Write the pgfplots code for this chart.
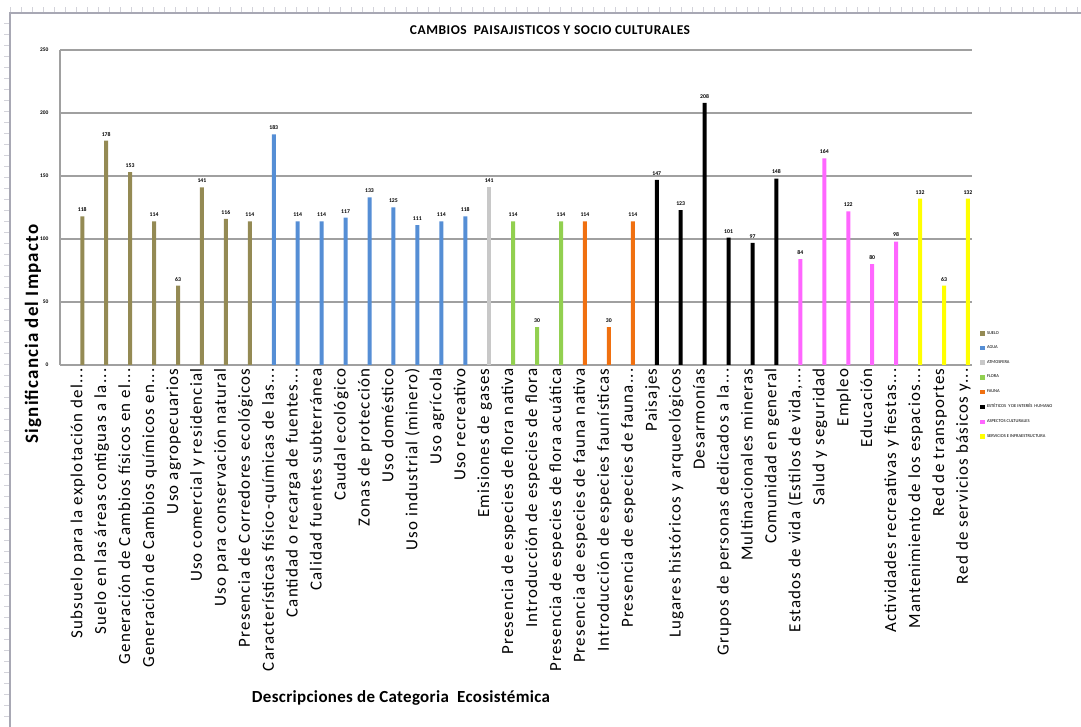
\documentclass[border=0pt]{standalone}
\usepackage{fontspec}
\setmainfont{Carlito}
\usepackage{pgfplots}
\pgfplotsset{compat=1.18}

\definecolor{suelo}{HTML}{948A54}
\definecolor{agua}{HTML}{558ED5}
\definecolor{atmos}{HTML}{C8C8C8}
\definecolor{flora}{HTML}{92D050}
\definecolor{fauna}{HTML}{F07010}
\definecolor{estet}{HTML}{000000}
\definecolor{cultu}{HTML}{FF66FF}
\definecolor{servi}{HTML}{FFFF00}
\definecolor{gridgray}{HTML}{A0A0A0}
\definecolor{framegray}{HTML}{A8A8B4}

% truncation mark for long category names
\newcommand{\trc}{...}

\begin{document}
\begin{tikzpicture}[x=1bp,y=1bp]
\path[use as bounding box] (0,0) rectangle (1081,727);
% outer frame with ruler marks
\draw[framegray, line width=1.4bp] (10,0) -- (10,714) -- (1081,714);
\foreach \t in {10,21,...,1081} \draw[framegray!50, line width=0.7bp] (\t,715) -- (\t,720);
\foreach \t in {0,11,...,714} \draw[framegray!50, line width=0.7bp] (4,\t) -- (9,\t);

\begin{axis}[
  at={(60bp,362bp)}, anchor=south west,
  scale only axis, width=912bp, height=315bp,
  xmin=-0.93, xmax=37.17, ymin=0, ymax=250,
  ytick={0,50,...,250},
  /pgf/number format/assume math mode=true,
  ymajorgrids, grid style={draw=gridgray, line width=1.3bp},
  axis x line*=bottom, axis y line*=left,
  axis line style={-, draw=gridgray, line width=1.3bp},
  major tick length=0pt,
  xtick={0,...,37},
  xticklabels={
    Subsuelo para la explotación del\trc,
    Suelo en las áreas contiguas a la\trc,
    Generación de Cambios físicos en el\trc,
    Generación de Cambios químicos en\trc,
    Uso agropecuarios,
    Uso comercial y residencial,
    Uso para conservación natural,
    Presencia de Corredores ecológicos,
    Características físico-químicas de las\trc,
    Cantidad o recarga de fuentes\trc,
    Calidad fuentes subterránea,
    Caudal ecológico,
    Zonas de protección,
    Uso doméstico,
    Uso industrial (minero),
    Uso agrícola,
    Uso recreativo,
    Emisiones de gases,
    Presencia de especies de flora nativa,
    Introducción de especies de flora,
    Presencia de especies de flora acuática,
    Presencia de especies de fauna nativa,
    Introducción de especies faunísticas,
    Presencia de especies de fauna\trc,
    Paisajes,
    Lugares históricos y arqueológicos,
    Desarmonías,
    Grupos de personas dedicados a la\trc,
    Multinacionales mineras,
    Comunidad en general,
    {Estados de vida (Estilos de vida,\trc},
    Salud y seguridad,
    Empleo,
    Educación,
    Actividades recreativas y fiestas\trc,
    Mantenimiento de los espacios\trc,
    Red de transportes,
    Red de servicios básicos y\trc},
  xticklabel style={rotate=90, anchor=base east,
    font=\fontsize{17}{17}\selectfont\addfontfeatures{LetterSpace=7}},
  yticklabel style={font=\fontsize{5.5}{6}\selectfont\bfseries, xshift=-8bp},
  ybar, bar width=4bp,
  every axis plot/.append style={bar shift=0pt, draw=none},
  nodes near coords,
  nodes near coords style={font=\fontsize{5.8}{6}\selectfont\bfseries, text=black, yshift=1bp},
  legend style={at={(1.009,0.114)}, anchor=north west, draw=none, fill=none,
    font=\fontsize{4.5}{5}\selectfont, row sep=6.2bp, inner sep=0pt,
    cells={anchor=west}},
  legend image code/.code={\fill[#1] (0bp,-2.3bp) rectangle (4.6bp,2.3bp);},
]
\addplot[fill=suelo, bar shift=0pt] coordinates {(0,118) (1,178) (2,153) (3,114) (4,63) (5,141) (6,116) (7,114)};
\addplot[fill=agua, bar shift=0pt] coordinates {(8,183) (9,114) (10,114) (11,117) (12,133) (13,125) (14,111) (15,114) (16,118)};
\addplot[fill=atmos, bar shift=0pt] coordinates {(17,141)};
\addplot[fill=flora, bar shift=0pt] coordinates {(18,114) (19,30) (20,114)};
\addplot[fill=fauna, bar shift=0pt] coordinates {(21,114) (22,30) (23,114)};
\addplot[fill=estet, bar shift=0pt] coordinates {(24,147) (25,123) (26,208) (27,101) (28,97) (29,148)};
\addplot[fill=cultu, bar shift=0pt] coordinates {(30,84) (31,164) (32,122) (33,80) (34,98)};
\addplot[fill=servi, bar shift=0pt] coordinates {(35,132) (36,63) (37,132)};
\legend{SUELO, AGUA, ATMOSFERA, FLORA, FAUNA, ESTÉTICOS\ \ Y DE INTERÉS\ \ HUMANO, ASPECTOS CULTURALES, SERVICIOS E INFRAESTRUCTURA}
\end{axis}

\node[font=\fontsize{13.5}{15}\selectfont\bfseries\addfontfeatures{LetterSpace=4}] at (550,697) {CAMBIOS\ \ PAISAJISTICOS Y SOCIO CULTURALES};
\node[font=\fontsize{19}{21}\selectfont\bfseries\addfontfeatures{LetterSpace=6}, rotate=90] at (33,393) {Significancia del Impacto};
\node[font=\fontsize{17}{19}\selectfont\bfseries\addfontfeatures{LetterSpace=2}] at (401,29) {Descripciones de Categoria\ \ Ecosistémica};
\end{tikzpicture}
\end{document}
